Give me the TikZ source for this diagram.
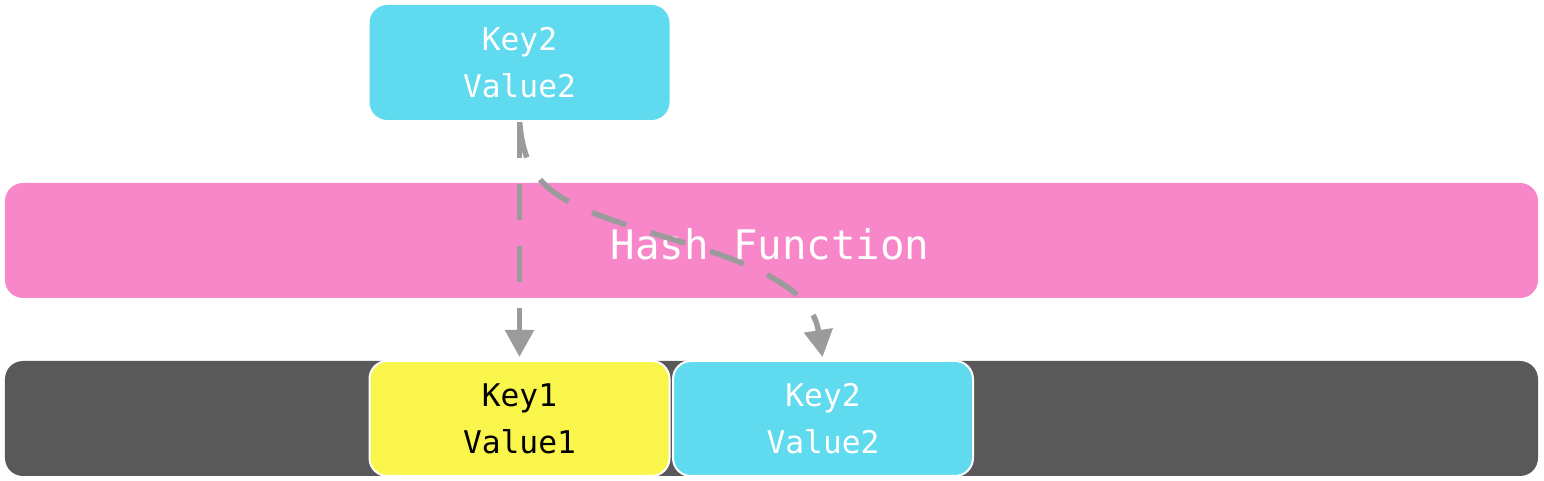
\documentclass[tikz,border=0pt]{standalone}
\usepackage{fontspec}
\setmonofont{DejaVu Sans Mono}
\usetikzlibrary{arrows.meta}
\definecolor{kvcyan}{HTML}{5FDAEE}
\definecolor{kvyellow}{HTML}{F9F54A}
\definecolor{hashpink}{HTML}{F787C8}
\definecolor{bucketgray}{HTML}{595959}
\definecolor{arrgray}{HTML}{9B9B9B}

\begin{document}
\begin{tikzpicture}[
  font=\ttfamily\fontsize{17.8}{26.7}\selectfont,
  kv/.style={rounded corners=0.36cm, minimum width=6.0cm, minimum height=2.3cm, inner sep=0, align=center},
  pasek/.style={rounded corners=0.36cm, minimum width=30.66cm, minimum height=2.3cm, inner sep=0},
  strz/.style={draw=arrgray, line width=0.11cm, dash pattern=on 0.72cm off 0.52cm,
    -{Triangle[length=0.54cm, width=0.56cm]}, shorten <=0.04cm, shorten >=0.06cm},
]
\useasboundingbox (0,0) rectangle (30.88,-9.62);
% Para wejsciowa
\node[kv, fill=kvcyan, text=white] (srckv) at (10.39,-1.25) {Key2\\Value2};
% Funkcja skrotu
\node[pasek, fill=hashpink] (hashfn) at (15.43,-4.81) {};
\node[text=white, font=\ttfamily\fontsize{23.2}{26}\selectfont] (hashtxt) at (15.40,-4.88) {Hash Function};
% Kubelek
\node[pasek, fill=bucketgray] (bucket) at (15.43,-8.37) {};
\node[kv, fill=kvyellow, draw=white, line width=0.04cm, text=black] (slotA) at (10.39,-8.37) {Key1\\Value1};
\node[kv, fill=kvcyan, draw=white, line width=0.04cm, text=white] (slotB) at (16.46,-8.37) {Key2\\Value2};
% Strzalki
\draw[strz] (srckv.south) -- (slotA.north);
\draw[strz] (srckv.south) .. controls (10.5,-3.8) and (11.2,-4.1) .. (13.3,-4.74)
  .. controls (15.2,-5.3) and (16.24,-5.8) .. (slotB.north);
\end{tikzpicture}
\end{document}
